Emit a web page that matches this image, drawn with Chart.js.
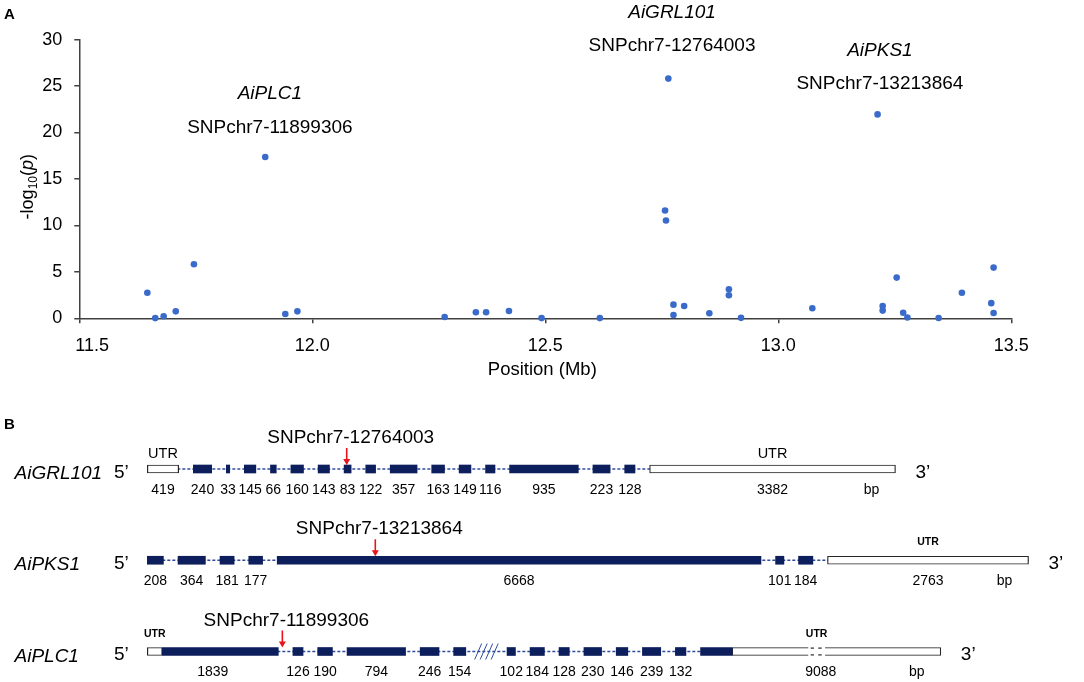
<!DOCTYPE html>
<html>
<head>
<meta charset="utf-8">
<script src="https://cdn.jsdelivr.net/npm/chart.js@4.4.0/dist/chart.umd.min.js"></script>
<style>
  html, body { margin: 0; padding: 0; background: #fff; }
  #wrap { position: relative; width: 1084px; height: 682px; overflow: hidden; }
  #gwas { position: absolute; left: 0; top: 0; }
  #genes { position: absolute; left: 0; top: 370px; }
</style>
</head>
<body>
<div id="wrap">
  <canvas id="gwas" width="1084" height="400"></canvas>
  <canvas id="genes" width="1084" height="312"></canvas>
</div>
<script>
// ---------- panel A : SNP association on chr7 ----------
const posMb = [11.646, 11.663, 11.681, 11.707, 11.746, 11.899, 11.942, 11.968, 12.284, 12.351,
               12.373, 12.422, 12.492, 12.617, 12.764, 12.757, 12.759, 12.775, 12.775, 12.798,
               12.852, 12.894, 12.894, 12.920, 13.073, 13.213, 13.224, 13.224, 13.254, 13.268,
               13.277, 13.344, 13.394, 13.457, 13.462, 13.462];
const logP = [2.75, 0.02, 0.22, 0.75, 5.82, 17.36, 0.47, 0.75, 0.14, 0.65,
              0.65, 0.79, 0.02, 0.02, 25.8, 11.61, 10.53, 1.47, 0.36, 1.33,
              0.54, 3.13, 2.48, 0.05, 1.08, 21.95, 1.33, 0.83, 4.38, 0.6,
              0.08, 0.03, 2.75, 1.63, 5.46, 0.57];
const mbTicks = [11.5, 12.0, 12.5, 13.0, 13.5];

// captions over the three peaks (x in Mb, y in -log10(p) of the SNP line)
const peakGenes = ["AiPLC1", "AiGRL101", "AiPKS1"];
const peakSnps = ["SNPchr7-11899306", "SNPchr7-12764003", "SNPchr7-13213864"];
const peakLabelMb = [11.909, 12.772, 13.218];
const peakLabelY = [20.7, 29.5, 25.4];

// ---------- panel B : gene models ----------
const genes = ["AiGRL101", "AiPKS1", "AiPLC1"];

// drawn length of each block (bp), U = UTR, E = exon
const grlParts = [419, 240, 33, 145, 66, 160, 143, 83, 122, 357, 163, 149, 116, 935, 223, 128, 3382];
const grlKinds = ["U", "E", "E", "E", "E", "E", "E", "E", "E", "E", "E", "E", "E", "E", "E", "E", "U"];
const grlGaps = [1, 1, 1, 1, 1, 1, 1, 1, 1, 1, 1, 1, 1, 1, 1, 1];
const grlLabels = grlParts.map(String);
const grlUtrTags = [0, 16];

const pksParts = [208, 364, 181, 177, 6668, 101, 184, 2763];
const pksKinds = ["E", "E", "E", "E", "E", "E", "E", "U"];
const pksGaps = [1, 1, 1, 1, 1, 1, 1];
const pksLabels = pksParts.map(String);
const pksUtrTags = [7];

// 1839 = 5'UTR + exon 1, 9088 = last exon + (broken) 3'UTR
const plcParts = [193, 1588, 126, 190, 794, 246, 154, 102, 184, 128, 230, 146, 239, 132, 422, 2869];
const plcKinds = ["U", "E", "E", "E", "E", "E", "E", "E", "E", "E", "E", "E", "E", "E", "E", "U"];
const plcGaps = [0, 1, 1, 1, 1, 1, 2.82, 1, 1, 1, 1, 1, 1, 1, 0];
const plcLabels = ["1839", null, "126", "190", "794", "246", "154", "102", "184", "128",
                   "230", "146", "239", "132", "9088", null];
const plcUtrTags = [0, 15];
const plcIntronBreak = 6;          // intron after this block is cut (////)
const plcUtrBreak = [15, 0.405];   // block, fraction where the UTR is cut

// SNP hits: block index and bp from the start of that block
const snpIds = ["SNPchr7-12764003", "SNPchr7-13213864", "SNPchr7-11899306"];
const snpBlock = [7, 4, 1];
const snpOffset = [36, 1355, 1658];

// ---------- styles ----------
const FONT = '"Liberation Sans", Arial, sans-serif';
const DOT = "#3a6bcb";
const NAVY = "#0c1e5b";
const INTRON_BLUE = "#2f4c9c";
const AXIS = "#404040";
const RED = "#e8131b";
const EDGE = 14;     // outline of a block, in bp of the drawing
const INTRON = 202;  // introns drawn at a fixed length

Chart.defaults.font.family = FONT;
Chart.defaults.color = "#000";

function layout(parts, gaps) {
    const spans = [];
    let pos = 0;
    parts.forEach((bp, i) => {
        const end = pos + bp + EDGE;
        spans.push([pos, end]);
        pos = end + (i < gaps.length ? gaps[i] * INTRON : 0);
    });
    return spans;
}

const tracks = [
    { parts: grlParts, kinds: grlKinds, gaps: grlGaps, labels: grlLabels, utr: grlUtrTags, bold: false },
    { parts: pksParts, kinds: pksKinds, gaps: pksGaps, labels: pksLabels, utr: pksUtrTags, bold: true },
    { parts: plcParts, kinds: plcKinds, gaps: plcGaps, labels: plcLabels, utr: plcUtrTags, bold: true }
];
tracks.forEach(t => { t.spans = layout(t.parts, t.gaps); });

// ==========================
// PANEL A
// ==========================

const gwasText = {
    id: "gwasText",
    afterDraw(chart) {
        const { ctx, chartArea, scales: { x, y } } = chart;
        ctx.save();
        ctx.fillStyle = "#000";

        ctx.font = "bold 15px " + FONT;
        ctx.textAlign = "left";
        ctx.fillText("A", 4, 19.3);

        // x tick labels (first one kept clear of the y axis)
        ctx.font = "18px " + FONT;
        ctx.textAlign = "center";
        mbTicks.forEach(v => {
            const txt = v.toFixed(1);
            const w = ctx.measureText(txt).width;
            const px = Math.max(x.getPixelForValue(v), chartArea.left - 4 + w / 2);
            ctx.fillText(txt, px, 350.5);
        });

        ctx.font = "18.5px " + FONT;
        ctx.fillText("Position (Mb)", (chartArea.left + chartArea.right) / 2 - 3, 375);

        // y title: -log10(p)
        ctx.save();
        ctx.translate(33, 186.7);
        ctx.rotate(-Math.PI / 2);
        const pieces = [
            ["-log", "18px " + FONT, 0],
            ["10", "12px " + FONT, 4],
            ["(", "18px " + FONT, 0],
            ["p", "italic 18px " + FONT, 0],
            [")", "18px " + FONT, 0]
        ];
        let total = 0;
        pieces.forEach(p => { ctx.font = p[1]; total += ctx.measureText(p[0]).width; });
        let cx = -total / 2;
        ctx.textAlign = "left";
        pieces.forEach(p => {
            ctx.font = p[1];
            ctx.fillText(p[0], cx, p[2]);
            cx += ctx.measureText(p[0]).width;
        });
        ctx.restore();

        // peak captions
        ctx.textAlign = "center";
        peakGenes.forEach((g, i) => {
            const px = x.getPixelForValue(peakLabelMb[i]);
            const py = y.getPixelForValue(peakLabelY[i]);
            ctx.font = "19px " + FONT;
            ctx.fillText(peakSnps[i], px, py + 6.8);
            ctx.font = "italic 19px " + FONT;
            ctx.fillText(g, px, py - 33.5 + 6.8);
        });
        ctx.restore();
    }
};

new Chart(document.getElementById("gwas"), {
    type: "scatter",
    data: {
        datasets: [{
            data: posMb.map((v, i) => ({ x: v, y: logP[i] })),
            pointRadius: 3.3,
            pointBackgroundColor: DOT,
            pointBorderColor: DOT,
            pointBorderWidth: 0,
            clip: false
        }]
    },
    options: {
        responsive: false,
        animation: false,
        events: [],
        layout: { padding: { left: 0, top: 39.6, right: 72.7, bottom: 0 } },
        plugins: { legend: { display: false }, tooltip: { enabled: false } },
        scales: {
            x: {
                type: "linear",
                min: 11.5,
                max: 13.5,
                afterBuildTicks: s => { s.ticks = mbTicks.map(v => ({ value: v })); },
                ticks: { color: "rgba(0,0,0,0)", font: { size: 18 } },
                grid: { drawOnChartArea: false, drawTicks: true, tickLength: 5, color: AXIS, lineWidth: 1.5 },
                border: { color: AXIS, width: 1.5 },
                afterFit: s => { s.height = 81.7; }
            },
            y: {
                min: 0,
                max: 30,
                ticks: { stepSize: 5, padding: 12, color: "#000", font: { size: 18 } },
                grid: { drawOnChartArea: false, drawTicks: true, tickLength: 5, color: AXIS, lineWidth: 1.5 },
                border: { color: AXIS, width: 1.5 },
                afterFit: s => { s.width = 79.3; }
            }
        }
    },
    plugins: [gwasText]
});

// ==========================
// PANEL B
// ==========================

const exonBars = [];
const utrBars = [];
tracks.forEach((t, gi) => {
    t.spans.forEach((s, i) => {
        (t.kinds[i] === "U" ? utrBars : exonBars).push({ x: s, y: genes[gi] });
    });
});

const intronLines = tracks.map((t, gi) => ({
    type: "line",
    data: [{ x: 0, y: genes[gi] }, { x: t.spans[t.spans.length - 1][1], y: genes[gi] }],
    borderColor: INTRON_BLUE,
    borderWidth: 1.3,
    borderDash: [3, 2],
    pointRadius: 0,
    clip: false,
    order: 1
}));

function groupCenter(t, i) {
    let k = i;
    while (k + 1 < t.labels.length && t.labels[k + 1] === null) k++;
    return (t.spans[i][0] + t.spans[k][1]) / 2;
}

const geneText = {
    id: "geneText",
    afterDraw(chart) {
        const { ctx, scales: { x, y } } = chart;
        ctx.save();
        ctx.fillStyle = "#000";
        ctx.font = "bold 15px " + FONT;
        ctx.textAlign = "left";
        ctx.fillText("B", 4, 59);

        tracks.forEach((t, gi) => {
            const cy = y.getPixelForValue(gi);
            const last = t.spans[t.spans.length - 1];
            const endPx = x.getPixelForValue(last[1]);

            // PLC cuts: intron //// and the 3'UTR break
            if (gi === 2) {
                const a = x.getPixelForValue(t.spans[plcIntronBreak][1]);
                const b = x.getPixelForValue(t.spans[plcIntronBreak + 1][0]);
                const mid = (a + b) / 2;
                ctx.strokeStyle = INTRON_BLUE;
                ctx.lineWidth = 1;
                for (let k = 0; k < 4; k++) {
                    const sx = mid + (k - 1.5) * 5.5;
                    ctx.beginPath();
                    ctx.moveTo(sx - 3.5, cy + 8);
                    ctx.lineTo(sx + 3.5, cy - 8);
                    ctx.stroke();
                }
                const us = t.spans[plcUtrBreak[0]];
                const bx = x.getPixelForValue(us[0] + (us[1] - us[0]) * plcUtrBreak[1]);
                ctx.fillStyle = "#fff";
                ctx.fillRect(bx - 8.4, cy - 5.5, 16.8, 11);
                ctx.strokeStyle = "#262626";
                ctx.lineWidth = 1.2;
                [[-6, -2.7], [1.6, 5]].forEach(d => {
                    [-3.4, 3.4].forEach(dy => {
                        ctx.beginPath();
                        ctx.moveTo(bx + d[0], cy + dy);
                        ctx.lineTo(bx + d[1], cy + dy);
                        ctx.stroke();
                    });
                });
                ctx.fillStyle = "#000";
            }

            // gene name, 5' and 3'
            ctx.textAlign = "left";
            ctx.font = "italic 19px " + FONT;
            ctx.fillText(genes[gi], 14.5, cy + 10);
            ctx.font = "19px " + FONT;
            ctx.fillText("5\u2019", 114, cy + 8.5);
            ctx.fillText("3\u2019", endPx + 20, cy + 8.5);

            // block sizes
            ctx.textAlign = "center";
            ctx.font = "14px " + FONT;
            t.labels.forEach((lab, i) => {
                if (lab === null) return;
                ctx.fillText(lab, x.getPixelForValue(groupCenter(t, i)), cy + 24.5);
            });
            ctx.fillText("bp", endPx - 24, cy + 24.5);

            // UTR captions
            ctx.font = (t.bold ? "bold 10.5px " : "14.5px ") + FONT;
            t.utr.forEach(i => {
                let ux = (t.spans[i][0] + t.spans[i][1]) / 2;
                if (gi === 2 && i === plcUtrBreak[0]) {
                    ux = t.spans[i][0] + (t.spans[i][1] - t.spans[i][0]) * plcUtrBreak[1];
                }
                ctx.fillText("UTR", x.getPixelForValue(ux), cy - (t.bold ? 15 : 11.5));
            });

            // SNP arrow and id
            const sx = x.getPixelForValue(t.spans[snpBlock[gi]][0] + snpOffset[gi]);
            ctx.strokeStyle = RED;
            ctx.fillStyle = RED;
            ctx.lineWidth = 1.6;
            ctx.beginPath();
            ctx.moveTo(sx, cy - 21);
            ctx.lineTo(sx, cy - 8);
            ctx.stroke();
            ctx.beginPath();
            ctx.moveTo(sx - 3.5, cy - 10);
            ctx.lineTo(sx + 3.5, cy - 10);
            ctx.lineTo(sx, cy - 4);
            ctx.closePath();
            ctx.fill();
            ctx.fillStyle = "#000";
            ctx.font = "19px " + FONT;
            ctx.fillText(snpIds[gi], sx + 4, cy - 26);
        });
        ctx.restore();
    }
};

new Chart(document.getElementById("genes"), {
    type: "bar",
    data: {
        labels: genes,
        datasets: [
            {
                type: "bar",
                data: exonBars,
                backgroundColor: NAVY,
                borderWidth: 0,
                barThickness: 8,
                grouped: false,
                clip: false,
                order: 0
            },
            {
                type: "bar",
                data: utrBars,
                backgroundColor: "#fff",
                borderColor: "#262626",
                borderWidth: 1.2,
                borderSkipped: false,
                barThickness: 8,
                grouped: false,
                clip: false,
                order: 0
            },
            ...intronLines
        ]
    },
    options: {
        indexAxis: "y",
        responsive: false,
        animation: false,
        events: [],
        layout: { padding: { left: 0, right: 0, top: 99, bottom: 30.5 } },
        plugins: { legend: { display: false }, tooltip: { enabled: false } },
        scales: {
            x: { type: "linear", min: -2035, max: 12938, display: false },
            y: { type: "category", offset: false, display: false }
        }
    },
    plugins: [geneText]
});
</script>
</body>
</html>
